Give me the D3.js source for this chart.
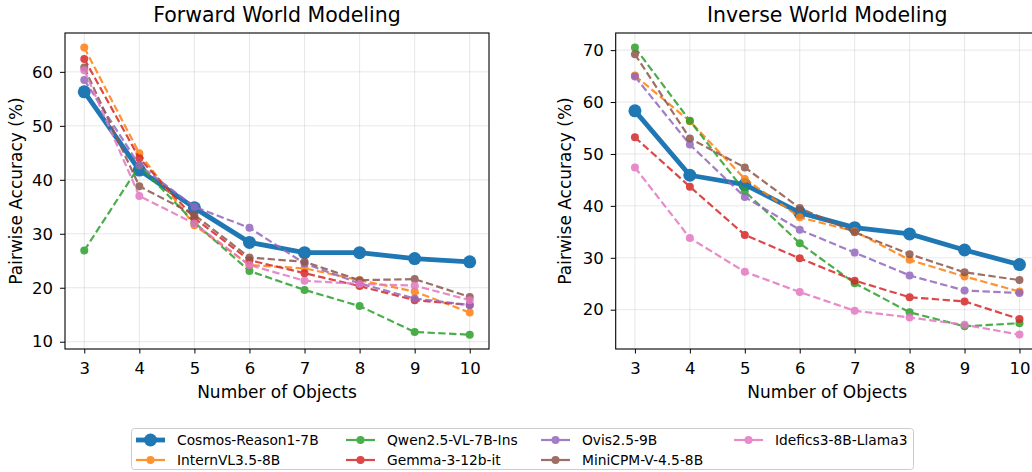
<!DOCTYPE html>
<html>
<head>
<meta charset="utf-8">
<script src="https://cdn.jsdelivr.net/npm/d3@7/dist/d3.min.js"></script>
<style>
  body { margin: 0; background: #fff; }
  text { font-family: "DejaVu Sans", sans-serif; fill: #000; }
</style>
</head>
<body>
<svg id="chart" width="1032" height="472"></svg>
<script>
// number of objects (x categories)
const objects = [3, 4, 5, 6, 7, 8, 9, 10];

const models = ['Cosmos-Reason1-7B', 'InternVL3.5-8B', 'Qwen2.5-VL-7B-Ins', 'Gemma-3-12b-it',
  'Ovis2.5-9B', 'MiniCPM-V-4.5-8B', 'Idefics3-8B-Llama3'];
const colors = ['#1f77b4', '#ff7f0e', '#2ca02c', '#d62728', '#9467bd', '#8c564b', '#e377c2'];

// Forward World Modeling, pairwise accuracy (%)
const cosmosFwd  = [56.3, 41.8, 34.8, 28.4, 26.5, 26.5, 25.4, 24.8];
const internFwd  = [64.5, 44.9, 31.6, 24.2, 23.6, 21.4, 19.3, 15.4];
const qwenFwd    = [26.9, 42.6, 32.1, 23.1, 19.6, 16.6, 11.8, 11.3];
const gemmaFwd   = [62.4, 44.0, 32.9, 25.1, 22.7, 20.3, 17.7, 16.8];
const ovisFwd    = [58.5, 42.7, 35.0, 31.1, 24.5, 20.8, 18.0, 16.8];
const minicpmFwd = [60.8, 38.8, 33.5, 25.6, 24.8, 21.4, 21.6, 18.3];
const ideficsFwd = [60.3, 37.0, 31.9, 24.2, 21.3, 20.7, 20.4, 17.7];

// Inverse World Modeling, pairwise accuracy (%)
const cosmosInv  = [58.3, 45.9, 44.1, 38.7, 35.8, 34.6, 31.5, 28.7];
const internInv  = [65.1, 56.3, 45.2, 37.8, 35.1, 29.6, 26.4, 23.5];
const qwenInv    = [70.5, 56.4, 42.8, 32.8, 25.1, 19.5, 16.8, 17.4];
const gemmaInv   = [53.2, 43.7, 34.4, 29.9, 25.6, 22.4, 21.6, 18.2];
const ovisInv    = [64.9, 51.8, 41.7, 35.4, 31.0, 26.6, 23.7, 23.2];
const minicpmInv = [69.2, 53.0, 47.4, 39.6, 34.9, 30.7, 27.2, 25.7];
const ideficsInv = [47.4, 33.8, 27.3, 23.4, 19.8, 18.5, 17.1, 15.2];

const forwardSeries = [cosmosFwd, internFwd, qwenFwd, gemmaFwd, ovisFwd, minicpmFwd, ideficsFwd];
const inverseSeries = [cosmosInv, internInv, qwenInv, gemmaInv, ovisInv, minicpmInv, ideficsInv];

const leftTicks = [10, 20, 30, 40, 50, 60];
const rightTicks = [20, 30, 40, 50, 60, 70];

const svg = d3.select('#chart');

function drawPanel(opts) {
  const { left, right, top, bottom, yDomain, ticks, title, series, labelX } = opts;
  const g = svg.append('g');

  const x = d3.scaleLinear().domain([2.65, 10.35]).range([left, right]);
  const y = d3.scaleLinear().domain(yDomain).range([bottom, top]);

  // grid
  g.append('g').selectAll('line').data(objects).enter().append('line')
    .attr('x1', d => x(d)).attr('x2', d => x(d))
    .attr('y1', top).attr('y2', bottom)
    .style('stroke', '#b0b0b0').style('stroke-opacity', 0.3).style('stroke-width', 1);
  g.append('g').selectAll('line').data(ticks).enter().append('line')
    .attr('x1', left).attr('x2', right)
    .attr('y1', d => y(d)).attr('y2', d => y(d))
    .style('stroke', '#b0b0b0').style('stroke-opacity', 0.3).style('stroke-width', 1);

  // axes
  const xAxis = g.append('g').attr('transform', `translate(0,${bottom})`)
    .call(d3.axisBottom(x).tickValues(objects).tickSize(4.5).tickPadding(9).tickSizeOuter(0));
  const yAxis = g.append('g').attr('transform', `translate(${left},0)`)
    .call(d3.axisLeft(y).tickValues(ticks).tickSize(5).tickPadding(7).tickSizeOuter(0));
  [xAxis, yAxis].forEach(a => {
    a.select('.domain').remove();
    a.selectAll('line').style('stroke', '#000').style('stroke-width', 1);
    a.selectAll('text').style('font-size', '16.5px').style('font-family', '"DejaVu Sans", sans-serif');
  });

  const line = d3.line().x((d, i) => x(objects[i])).y(d => y(d));

  // blue one is drawn first, dashed models on top
  series.forEach((vals, k) => {
    const main = k === 0;
    const sg = g.append('g').style('opacity', main ? 1 : 0.85);
    sg.append('path').datum(vals)
      .attr('d', line)
      .style('fill', 'none')
      .style('stroke', colors[k])
      .style('stroke-width', main ? 4.8 : 2.2)
      .style('stroke-dasharray', main ? null : '7.4,3.4')
      .style('stroke-linejoin', 'round');
    sg.selectAll('circle').data(vals).enter().append('circle')
      .attr('cx', (d, i) => x(objects[i]))
      .attr('cy', d => y(d))
      .attr('r', main ? 6.5 : 4)
      .style('fill', colors[k]);
  });

  // frame
  g.append('rect')
    .attr('x', left).attr('y', top)
    .attr('width', right - left).attr('height', bottom - top)
    .style('fill', 'none').style('stroke', '#000').style('stroke-width', 1.1);

  g.append('text')
    .attr('x', (left + right) / 2).attr('y', 22)
    .attr('text-anchor', 'middle')
    .style('font-size', '20.5px')
    .text(title);

  g.append('text')
    .attr('x', (left + right) / 2).attr('y', bottom + 49)
    .attr('text-anchor', 'middle')
    .style('font-size', '17px')
    .text('Number of Objects');

  g.append('text')
    .attr('transform', `translate(${labelX},${(top + bottom) / 2}) rotate(-90)`)
    .attr('text-anchor', 'middle')
    .style('font-size', '17px')
    .text('Pairwise Accuracy (%)');
}

drawPanel({
  left: 65, right: 489, top: 33, bottom: 349,
  yDomain: [8.65, 67.2], ticks: leftTicks,
  title: 'Forward World Modeling', series: forwardSeries, labelX: 22
});

drawPanel({
  left: 615.7, right: 1038.7, top: 33, bottom: 349,
  yDomain: [12.43, 73.3], ticks: rightTicks,
  title: 'Inverse World Modeling', series: inverseSeries, labelX: 571
});

// legend
const legend = svg.append('g');
legend.append('rect')
  .attr('x', 131.5).attr('y', 428.5).attr('width', 782).attr('height', 41)
  .attr('rx', 3)
  .style('fill', '#fff').style('stroke', '#cccccc').style('stroke-width', 1);

const colX = [177, 387, 582, 775];
const rowY = [440, 460];
models.forEach((m, k) => {
  const col = Math.floor(k / 2), row = k % 2;
  const tx = colX[col], ty = rowY[row];
  const main = k === 0;
  const item = legend.append('g').style('opacity', main ? 1 : 0.85);
  item.append('line')
    .attr('x1', tx - 41).attr('x2', tx - 12)
    .attr('y1', ty).attr('y2', ty)
    .style('stroke', colors[k]).style('stroke-width', main ? 4.8 : 2.2);
  item.append('circle')
    .attr('cx', tx - 26.5).attr('cy', ty).attr('r', main ? 6.5 : 4)
    .style('fill', colors[k]);
  legend.append('text')
    .attr('x', tx).attr('y', ty).attr('dy', '0.35em')
    .style('font-size', '13.8px')
    .text(m);
});
</script>
</body>
</html>
